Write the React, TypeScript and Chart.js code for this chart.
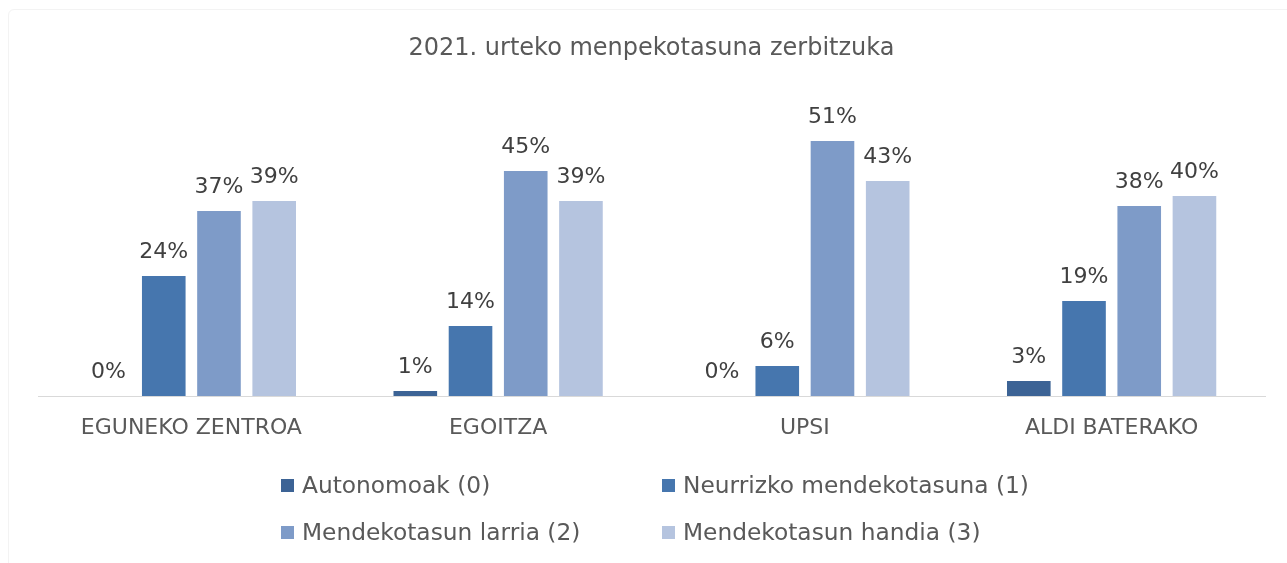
import React, { useEffect, useRef } from "react";
import { Chart, registerables } from "chart.js";

Chart.register(...registerables);

const title = "2021. urteko menpekotasuna zerbitzuka";
const categories = ["EGUNEKO ZENTROA", "EGOITZA", "UPSI", "ALDI BATERAKO"];
const seriesNames = [
  "Autonomoak (0)",
  "Neurrizko mendekotasuna (1)",
  "Mendekotasun larria (2)",
  "Mendekotasun handia (3)",
];
const autonomoak = [0, 1, 0, 3];
const neurrizko = [24, 14, 6, 19];
const larria = [37, 45, 51, 38];
const handia = [39, 39, 43, 40];
const seriesColors = ["#3c6395", "#4676ae", "#7e9bc8", "#b5c4df"];

const FONT = "'DejaVu Sans', sans-serif";

const dataLabelPlugin = {
  id: "dataLabels",
  afterDatasetsDraw(chart: any) {
    const ctx = chart.ctx;
    ctx.save();
    ctx.font = `22px ${FONT}`;
    ctx.fillStyle = "#404040";
    ctx.textAlign = "center";
    ctx.textBaseline = "alphabetic";
    chart.data.datasets.forEach((ds: any, i: number) => {
      const meta = chart.getDatasetMeta(i);
      meta.data.forEach((el: any, j: number) => {
        ctx.fillText(`${ds.data[j]}%`, el.x, el.y - 18);
      });
    });
    ctx.restore();
  },
};

const gridLegendPlugin = {
  id: "gridLegend",
  afterDraw(chart: any) {
    const ctx = chart.ctx;
    ctx.save();
    ctx.font = `23.3px ${FONT}`;
    ctx.textBaseline = "alphabetic";
    ctx.textAlign = "left";
    const colX = [281, 662];
    const rowBase = [493, 540];
    chart.data.datasets.forEach((ds: any, i: number) => {
      const x = colX[i % 2];
      const b = rowBase[Math.floor(i / 2)];
      ctx.fillStyle = ds.backgroundColor;
      ctx.fillRect(x, b - 14, 13, 13);
      ctx.fillStyle = "#595959";
      ctx.fillText(ds.label, x + 21, b);
    });
    ctx.restore();
  },
};

export default function App() {
  const ref = useRef<HTMLCanvasElement>(null);
  useEffect(() => {
    if (!ref.current) return;
    const values = [autonomoak, neurrizko, larria, handia];
    const chart = new Chart(ref.current, {
      type: "bar",
      data: {
        labels: categories,
        datasets: seriesNames.map((name, i) => ({
          label: name,
          data: values[i],
          backgroundColor: seriesColors[i],
          borderWidth: 0,
          categoryPercentage: 0.72,
          barPercentage: 0.79,
        })),
      },
      options: {
        animation: false,
        responsive: false,
        maintainAspectRatio: false,
        layout: { padding: { left: 38, right: 22, top: 0, bottom: 117 } },
        plugins: {
          legend: { display: false },
          tooltip: { enabled: false },
          title: {
            display: true,
            text: title,
            color: "#595959",
            font: { family: FONT, size: 24, weight: "normal" as any },
            padding: { top: 34, bottom: 33.2 },
          },
        },
        scales: {
          x: {
            grid: { display: false, drawTicks: false },
            border: { display: true, color: "#d9d9d9", width: 1 },
            ticks: {
              color: "#595959",
              font: { family: FONT, size: 22 },
              padding: 19,
              maxRotation: 0,
              autoSkip: false,
            },
            afterFit: (scale: any) => {
              scale.height = 50;
            },
          },
          y: {
            display: false,
            min: 0,
            max: 60,
          },
        },
      },
      plugins: [dataLabelPlugin, gridLegendPlugin],
    });
    return () => chart.destroy();
  }, []);

  return (
    <div style={{ position: "fixed", left: 0, top: 0, width: 1287, height: 563, background: "#fff" }}>
      <div
        style={{
          position: "absolute",
          left: 8,
          top: 9,
          width: 1300,
          height: 600,
          border: "1px solid #f3f3f3",
          borderRadius: 6,
        }}
      />
      <canvas ref={ref} width={1287} height={563} style={{ position: "absolute", left: 0, top: 0 }} />
    </div>
  );
}
